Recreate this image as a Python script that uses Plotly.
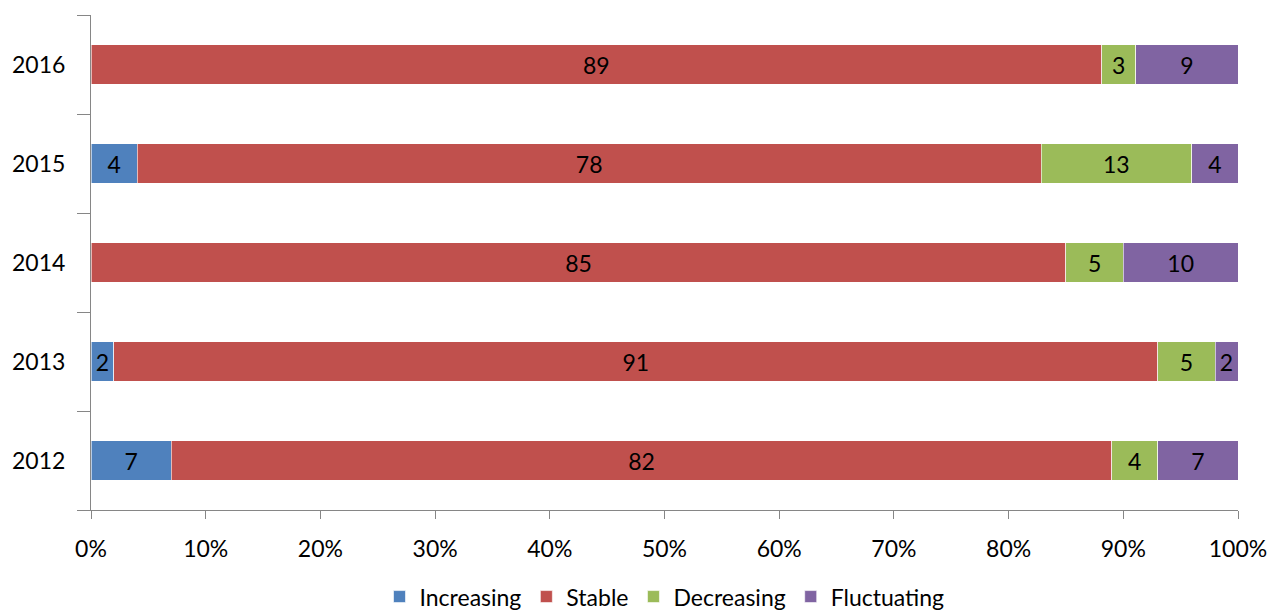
import plotly.graph_objects as go

years = ["2012", "2013", "2014", "2015", "2016"]
increasing = [7, 2, 0, 4, 0]
stable = [82, 91, 85, 78, 89]
decreasing = [4, 5, 5, 13, 3]
fluctuating = [7, 2, 10, 4, 9]

series = [
    ("Increasing", increasing, "#4F81BD"),
    ("Stable", stable, "#C0504D"),
    ("Decreasing", decreasing, "#9BBB59"),
    ("Fluctuating", fluctuating, "#8064A2"),
]

FONT = "Lato, Calibri, Carlito, sans-serif"
FS = 23

fig = go.Figure()
for name, vals, color in series:
    fig.add_trace(go.Bar(
        y=years, x=vals, name=name, orientation="h",
        marker=dict(color=color, line=dict(color="rgba(255,255,255,0.6)", width=1)),
        text=[str(v) if v else "" for v in vals],
        texttemplate="%{text}",
        textposition="inside", insidetextanchor="middle",
        textfont=dict(color="black", size=FS, family=FONT),
        constraintext="none",
        hoverinfo="skip",
    ))

fig.update_layout(
    barmode="stack", barnorm="percent", bargap=0.6,
    width=1269, height=611,
    margin=dict(l=91, r=31, t=15, b=101, autoexpand=False),
    plot_bgcolor="white", paper_bgcolor="white",
    font=dict(family=FONT, size=FS, color="black"),
    showlegend=True,
    legend=dict(orientation="h", x=0.5, xanchor="center", y=-0.175, yanchor="middle",
                font=dict(size=FS, family=FONT), traceorder="normal",
                itemwidth=30, tracegroupgap=0),
)
fig.update_xaxes(range=[0, 100], dtick=10, ticksuffix="%", showgrid=False, zeroline=False,
                 showline=True, linecolor="#868686", linewidth=1,
                 ticks="outside", ticklen=8, tickcolor="#868686",
                 ticklabelstandoff=10, automargin=False,
                 tickfont=dict(size=FS, family=FONT))
fig.update_yaxes(type="category", showgrid=False, zeroline=False,
                 showline=True, linecolor="#868686", linewidth=1,
                 ticks="outside", ticklen=13, tickcolor="#868686", tickson="boundaries",
                 ticklabelstandoff=20, automargin=False,
                 tickfont=dict(size=FS, family=FONT))

fig.write_html("out.html")
